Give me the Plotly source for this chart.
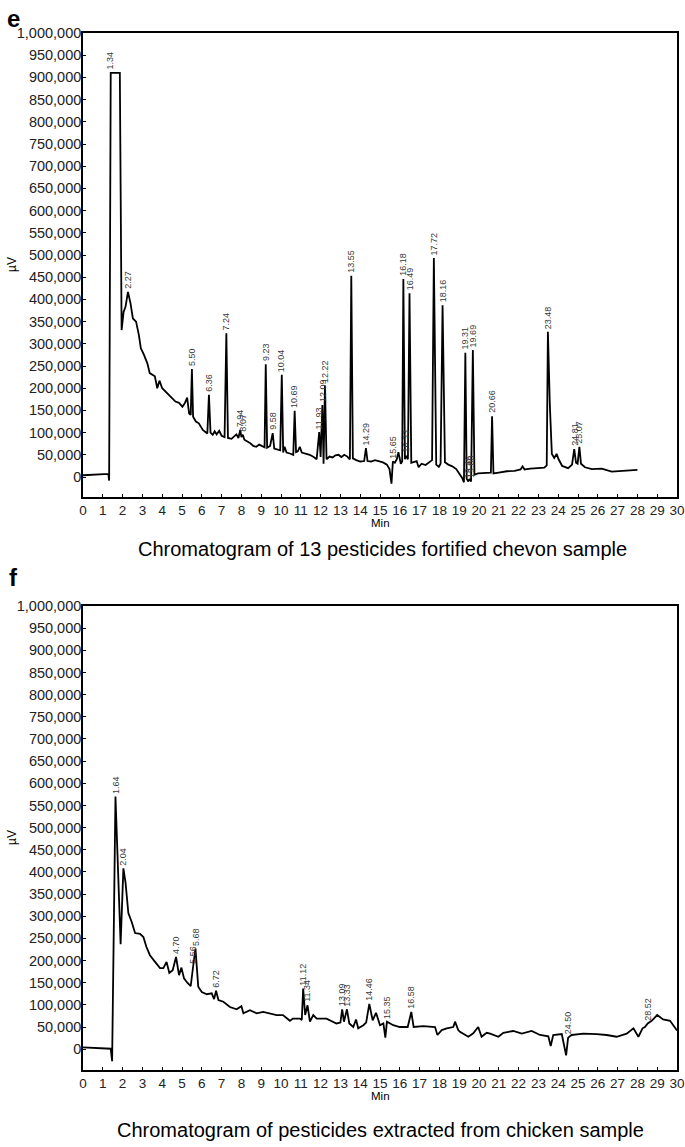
import numpy as np
import plotly.graph_objects as go

# ---------------- Panel e : 13 pesticides fortified chevon sample ----------------
time_e = [0.0, 0.5, 1.0, 1.28, 1.32, 1.40, 1.86, 1.95, 2.05, 2.15, 2.27, 2.40, 2.52, 2.68, 2.82,
          2.92, 3.08, 3.25, 3.37, 3.50, 3.63, 3.75, 3.86, 4.00, 4.20, 4.42, 4.67, 4.85, 5.02, 5.14,
          5.26, 5.36, 5.44, 5.50, 5.56, 5.70, 5.85, 6.05, 6.28, 6.36, 6.44, 6.55, 6.65, 6.75, 6.88,
          7.00, 7.15, 7.24, 7.32, 7.50, 7.65, 7.75, 7.85, 7.94, 8.00, 8.07, 8.15, 8.30, 8.45, 8.60,
          8.75, 8.90, 9.05, 9.17, 9.23, 9.30, 9.45, 9.58, 9.66, 9.80, 9.96, 10.04, 10.11, 10.18,
          10.28, 10.45, 10.62, 10.69, 10.76, 10.85, 10.95, 11.05, 11.25, 11.45, 11.65, 11.80, 11.93,
          12.00, 12.09, 12.15, 12.22, 12.30, 12.45, 12.60, 12.75, 12.90, 13.05, 13.20, 13.35, 13.48,
          13.55, 13.63, 13.80, 14.00, 14.20, 14.29, 14.37, 14.55, 14.75, 14.95, 15.15, 15.35, 15.48,
          15.58, 15.65, 15.75, 15.85, 15.93, 16.05, 16.12, 16.18, 16.26, 16.33, 16.41, 16.49, 16.58,
          16.70, 16.85, 16.95, 17.10, 17.30, 17.50, 17.63, 17.72, 17.84, 17.97, 18.06, 18.16, 18.28,
          18.45, 18.65, 18.85, 19.00, 19.15, 19.24, 19.31, 19.38, 19.46, 19.53, 19.60, 19.69, 19.77,
          19.95, 20.20, 20.45, 20.60, 20.66, 20.73, 21.00, 21.40, 21.80, 22.10, 22.20, 22.30, 22.60,
          23.00, 23.30, 23.42, 23.48, 23.58, 23.68, 23.80, 23.92, 24.02, 24.20, 24.50, 24.70, 24.81,
          24.90, 24.98, 25.07, 25.15, 25.35, 25.70, 26.20, 26.70, 27.20, 27.60, 28.00]
signal_e = [4000, 5000, 6000, 7000, -8000, 910000, 910000, 331000, 372000, 384000, 417000, 391000,
            357000, 350000, 320000, 290000, 275000, 256000, 234000, 230000, 227000, 200000, 217000,
            200000, 192000, 181000, 170000, 167000, 158000, 166000, 179000, 143000, 140000, 243000,
            136000, 125000, 121000, 106000, 98000, 185000, 100000, 95000, 103000, 96000, 104000,
            93000, 90000, 324000, 88000, 86000, 92000, 96000, 88000, 106000, 90000, 95000, 84000,
            80000, 76000, 70000, 68000, 73000, 70000, 67000, 254000, 66000, 70000, 99000, 64000,
            62000, 60000, 230000, 55000, 68000, 55000, 53000, 50000, 149000, 56000, 58000, 68000,
            55000, 52000, 50000, 45000, 40000, 101000, 45000, 162000, 30000, 206000, 40000, 46000,
            44000, 49000, 50000, 45000, 50000, 46000, 40000, 453000, 42000, 38000, 35000, 36000,
            65000, 36000, 35000, 38000, 36000, 33000, 28000, 18000, -15000, 35000, 32000, 40000,
            56000, 30000, 35000, 446000, 40000, 48000, 40000, 414000, 32000, 34000, 36000, 22000,
            30000, 27000, 34000, 38000, 493000, 28000, 23000, 30000, 387000, 33000, 28000, 24000,
            18000, 8000, -2000, -12000, 280000, -4000, -10000, -4000, -10000, 286000, 5000, 8000,
            9000, 9000, 10000, 137000, 8000, 10000, 13000, 14000, 17000, 24000, 17000, 19000, 20000,
            21000, 26000, 327000, 160000, 52000, 43000, 52000, 40000, 25000, 20000, 28000, 63000,
            32000, 30000, 68000, 30000, 22000, 18000, 19000, 12000, 14000, 15000, 16000]
labels_e = ["1.34", "2.27", "5.50", "6.36", "7.24", "7.94", "8.07", "9.23", "9.58", "10.04", "10.69",
            "11.93", "12.09", "12.22", "13.55", "14.29", "15.65", "16.18", "16.33", "16.49", "17.72",
            "18.16", "19.31", "19.46", "19.60", "19.69", "20.66", "23.48", "24.81", "25.07"]

# ---------------- Panel f : pesticides extracted from chicken sample ----------------
time_f = [0.0, 0.7, 1.40, 1.47, 1.64, 1.90, 2.04, 2.15, 2.29, 2.46, 2.63, 2.88, 3.05, 3.20, 3.38,
          3.64, 3.89, 4.06, 4.22, 4.36, 4.53, 4.70, 4.85, 4.97, 5.10, 5.27, 5.44, 5.56, 5.68, 5.82,
          6.00, 6.25, 6.50, 6.62, 6.72, 6.84, 7.09, 7.42, 7.76, 8.00, 8.10, 8.43, 8.77, 9.10, 9.44,
          9.78, 10.10, 10.45, 10.60, 10.96, 11.05, 11.12, 11.22, 11.34, 11.46, 11.63, 11.80, 12.30,
          12.80, 13.00, 13.09, 13.18, 13.33, 13.45, 13.65, 13.79, 13.90, 14.16, 14.30, 14.46, 14.63,
          14.80, 15.00, 15.17, 15.27, 15.35, 15.67, 16.00, 16.40, 16.58, 16.70, 17.19, 17.78, 17.90,
          18.12, 18.37, 18.70, 18.79, 18.95, 19.04, 19.46, 19.71, 19.96, 20.13, 20.39, 20.56, 20.98,
          21.23, 21.73, 22.16, 22.66, 23.08, 23.50, 23.62, 23.75, 24.18, 24.40, 24.50, 24.68, 25.27,
          25.94, 26.45, 26.95, 27.46, 27.80, 28.05, 28.26, 28.38, 28.52, 28.72, 29.00, 29.30, 29.65,
          29.95, 30.00]
signal_f = [4000, 3000, 1000, -27000, 570000, 237000, 408000, 375000, 307000, 287000, 262000, 260000,
            253000, 231000, 212000, 197000, 183000, 183000, 197000, 172000, 178000, 208000, 167000,
            184000, 160000, 150000, 142000, 186000, 227000, 141000, 129000, 124000, 126000, 113000,
            132000, 111000, 107000, 95000, 90000, 97000, 81000, 88000, 81000, 84000, 81000, 77000,
            77000, 64000, 69000, 69000, 66000, 137000, 77000, 99000, 62000, 77000, 69000, 69000,
            58000, 60000, 90000, 62000, 90000, 58000, 50000, 67000, 47000, 54000, 60000, 102000,
            65000, 82000, 54000, 58000, 26000, 62000, 54000, 50000, 50000, 84000, 50000, 52000,
            50000, 32000, 43000, 47000, 50000, 62000, 43000, 39000, 28000, 36000, 50000, 28000,
            37000, 35000, 28000, 37000, 41000, 35000, 41000, 32000, 29000, 7000, 32000, 34000,
            -14000, 26000, 32000, 35000, 34000, 32000, 28000, 35000, 47000, 28000, 47000, 50000,
            58000, 64000, 77000, 67000, 64000, 44000, 42000]
labels_f = ["1.64", "2.04", "4.70", "5.56", "5.68", "6.72", "11.12", "11.34", "13.09", "13.33",
            "14.46", "15.35", "16.58", "24.50", "28.52"]

y_ticks = list(range(0, 1000001, 50000))
x_ticks = list(range(0, 31))

FONT = "Arial, Liberation Sans, sans-serif"
H_PLOT = 1037.0


def py(p):
    """page pixel row -> paper y"""
    return (1070 - p) / H_PLOT


fig = go.Figure()
fig.add_trace(go.Scatter(x=time_e, y=signal_e, mode="lines", line=dict(color="black", width=1.8),
                         xaxis="x", yaxis="y", showlegend=False, hoverinfo="skip"))
fig.add_trace(go.Scatter(x=time_f, y=signal_f, mode="lines", line=dict(color="black", width=1.8),
                         xaxis="x2", yaxis="y2", showlegend=False, hoverinfo="skip"))

ann = []


def peak_labels(labels, t, v, xr, yr):
    t = np.array(t)
    v = np.array(v)
    for lab in labels:
        x0 = float(lab)
        m = np.abs(t - x0) <= 0.06
        y0 = v[m].max() if m.any() else float(np.interp(x0, t, v))
        ann.append(dict(x=x0, y=y0, xref=xr, yref=yr, text=lab, showarrow=False, textangle=-90,
                        xanchor="center", yanchor="bottom", yshift=1,
                        font=dict(family=FONT, size=9, color="#3a3a3a")))


peak_labels(labels_e, time_e, signal_e, "x", "y")
peak_labels(labels_f, time_f, signal_f, "x2", "y2")

txt = [
    ("e", 13, 18, 24, True, 0),
    ("f", 13, 577, 24, True, 0),
    ("Min", 380, 523, 11.5, False, 0),
    ("Min", 380, 1096, 11.5, False, 0),
    ("µV", 12, 265, 12, False, -90),
    ("µV", 12, 838, 12, False, -90),
    ("Chromatogram of 13 pesticides fortified chevon sample", 382, 549, 20, False, 0),
    ("Chromatogram of pesticides extracted from chicken sample", 380, 1130, 20, False, 0),
]
for s, xp, yp, size, bold, ang in txt:
    ann.append(dict(x=(xp - 83) / 594.0, y=py(yp), xref="paper", yref="paper",
                    text=f"<b>{s}</b>" if bold else s, showarrow=False, textangle=ang,
                    xanchor="center", yanchor="middle",
                    font=dict(family=FONT, size=size, color="black")))

axis_common = dict(showgrid=False, zeroline=False, showline=True, linecolor="black", linewidth=1.6,
                   mirror=True, ticks="inside", ticklen=3, tickcolor="black", tickwidth=1,
                   automargin=False)
xfont = dict(family=FONT, size=13.5, color="#222")
yfont = dict(family=FONT, size=14.5, color="#222")

fig.update_layout(
    width=685, height=1147,
    margin=dict(l=83, r=8, t=33, b=77, autoexpand=False),
    paper_bgcolor="white", plot_bgcolor="white",
    xaxis=dict(domain=[0, 1], anchor="y", range=[0, 30], tickvals=x_ticks, tickfont=xfont,
               **axis_common),
    yaxis=dict(domain=[573 / H_PLOT, 1], anchor="x", range=[-45000, 1000000], tickvals=y_ticks,
               tickformat=",", ticklabelstandoff=-3, tickfont=yfont, **axis_common),
    xaxis2=dict(domain=[0, 1], anchor="y2", range=[0, 30], tickvals=x_ticks, tickfont=xfont,
                **axis_common),
    yaxis2=dict(domain=[0, 464 / H_PLOT], anchor="x2", range=[-47000, 1000000], tickvals=y_ticks,
                tickformat=",", ticklabelstandoff=-3, tickfont=yfont, **axis_common),
    annotations=ann,
)

fig.write_html("out.html", config={"displayModeBar": False},
               post_script="document.body.style.margin='0';document.body.style.overflow='hidden';")
